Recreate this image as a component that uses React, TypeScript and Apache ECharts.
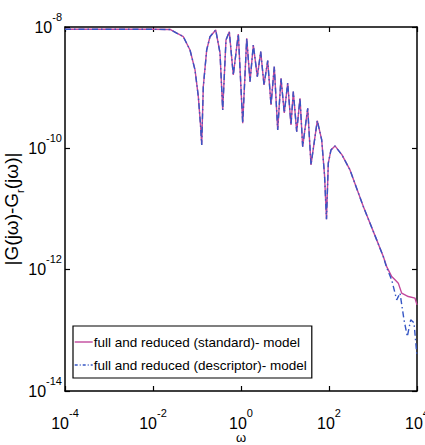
import React, { useEffect, useRef } from "react";
import * as echarts from "echarts";

// log10(omega) and log10(|G - Gr|)
const sharedLogOmega = [-4, -2, -1.614, -1.311, -1.159, -1.045, -0.97, -0.92, -0.893, -0.857, -0.78, -0.705, -0.575, -0.477, -0.416, -0.341, -0.266, -0.175, -0.061, 0.039, 0.13, 0.205, 0.28, 0.371, 0.448, 0.523, 0.607, 0.682, 0.757, 0.834, 0.909, 0.984, 1.061, 1.136, 1.189, 1.266, 1.341, 1.402, 1.516, 1.591, 1.734, 1.834, 1.898, 1.943, 1.984, 2.045, 2.136, 2.295, 2.477, 2.78, 3.084, 3.234];
const sharedLogMag = [-8.038, -8.038, -8.041, -8.16, -8.379, -8.708, -9.148, -9.615, -9.944, -8.984, -8.379, -8.16, -8.049, -8.428, -9.367, -8.214, -8.077, -8.791, -8.115, -9.586, -8.186, -8.901, -8.297, -8.819, -8.407, -8.956, -8.555, -9.285, -8.654, -9.697, -8.845, -9.417, -8.923, -9.615, -9.066, -9.725, -9.175, -9.972, -9.339, -10.273, -9.544, -9.862, -10.438, -11.168, -10.245, -10.026, -9.96, -10.109, -10.356, -10.96, -11.509, -11.784];

const stdTailLogOmega = [3.311, 3.425, 3.5, 3.575, 3.652, 3.802, 3.955, 4.0];
const stdTailLogMag = [-11.949, -12.114, -12.168, -12.222, -12.387, -12.443, -12.47, -12.58];

const descTailLogOmega = [3.311, 3.425, 3.539, 3.614, 3.705, 3.78, 3.857, 3.932, 4.0];
const descTailLogMag = [-11.97, -12.168, -12.498, -12.387, -12.827, -13.102, -12.827, -12.876, -13.432];

const seriesNames = [
  "full and reduced (standard)- model",
  "full and reduced (descriptor)- model",
];

const FONT = "'Liberation Sans', Arial, Helvetica, sans-serif";
const MAGENTA = "#c2489c";
const BLUE = "#3656c4";
const DASH = [6, 3, 1.5, 3];

function toPoints(lx: number[], ly: number[]) {
  return lx.map((x, i) => [Math.pow(10, x), Math.pow(10, ly[i])]);
}

function expLabel(v: number) {
  const e = Math.round(Math.log10(v));
  return `{b|10}{s|${e}}`;
}

const labelRich = {
  b: { fontSize: 16, fontFamily: FONT, color: "#000", verticalAlign: "bottom", lineHeight: 24 },
  s: { fontSize: 11, fontFamily: FONT, color: "#000", verticalAlign: "top" },
};

export default function App() {
  const ref = useRef<HTMLDivElement>(null);
  useEffect(() => {
    if (!ref.current) return;
    const chart = echarts.init(ref.current, undefined, { renderer: "svg" });
    const stdData = toPoints(sharedLogOmega.concat(stdTailLogOmega), sharedLogMag.concat(stdTailLogMag));
    const descData = toPoints(sharedLogOmega.concat(descTailLogOmega), sharedLogMag.concat(descTailLogMag));
    const axisLine = { show: true, lineStyle: { color: "#000", width: 1.5 } };
    const tick = { show: true, inside: true, length: 5, lineStyle: { color: "#000", width: 1.2 } };
    chart.setOption({
      animation: false,
      backgroundColor: "#fff",
      grid: { left: 65, right: 8, top: 27, bottom: 54, containLabel: false, outerBoundsMode: "none" },
      legend: {
        orient: "vertical",
        left: 73,
        top: 326,
        data: [
          { name: seriesNames[0], lineStyle: { color: MAGENTA, width: 1.4 } },
          { name: seriesNames[1], lineStyle: { color: BLUE, width: 1.4, type: [3, 2, 1, 2] } },
        ],
        itemStyle: { opacity: 0 },
        backgroundColor: "#fff",
        borderColor: "#000",
        borderWidth: 1.2,
        borderRadius: 0,
        padding: [9, 5, 6, 1],
        itemGap: 9,
        itemWidth: 18,
        itemHeight: 14,
        textStyle: { fontFamily: FONT, fontSize: 13.5, color: "#000", padding: [0, 0, 0, -4] },
      },
      xAxis: [
        {
          type: "log",
          logBase: 100,
          min: 1e-4,
          max: 1e4,
          interval: 1,
          name: "ω",
          nameLocation: "middle",
          nameGap: 40,
          nameMoveOverlap: false,
          nameTextStyle: { fontFamily: FONT, fontSize: 13, color: "#000" },
          axisLine,
          axisTick: tick,
          splitLine: { show: false },
          minorTick: { show: false },
          axisLabel: { formatter: expLabel, rich: labelRich, margin: 16, color: "#000" },
        },
        {
          type: "log",
          logBase: 100,
          min: 1e-4,
          max: 1e4,
          interval: 1,
          position: "top",
          axisLine,
          axisTick: tick,
          splitLine: { show: false },
          axisLabel: { show: false },
        },
      ],
      yAxis: [
        {
          type: "log",
          logBase: 100,
          min: 1e-14,
          max: 1e-8,
          interval: 1,
          name: "{n|\u007CG(jω)-G}{r|r}{n|(jω)\u007C}",
          nameLocation: "middle",
          nameGap: 40,
          nameMoveOverlap: false,
          nameRotate: 90,
          nameTextStyle: {
            rich: {
              n: { fontFamily: FONT, fontSize: 19, color: "#000", verticalAlign: "top", lineHeight: 23 },
              r: { fontFamily: FONT, fontSize: 11, color: "#000", verticalAlign: "bottom", lineHeight: 23 },
            },
          },
          axisLine,
          axisTick: tick,
          splitLine: { show: false },
          minorTick: { show: false },
          axisLabel: { formatter: expLabel, rich: labelRich, margin: 3, color: "#000", padding: [0, 0, 8, 0] },
        },
        {
          type: "log",
          logBase: 100,
          min: 1e-14,
          max: 1e-8,
          interval: 1,
          position: "right",
          axisLine,
          axisTick: tick,
          splitLine: { show: false },
          axisLabel: { show: false },
        },
      ],
      series: [
        {
          name: seriesNames[0],
          type: "line",
          data: stdData,
          showSymbol: false,
          symbol: "none",
          lineStyle: { color: MAGENTA, width: 1.4 },
          itemStyle: { color: MAGENTA },
          z: 2,
        },
        {
          name: seriesNames[1],
          type: "line",
          data: descData,
          showSymbol: false,
          symbol: "none",
          lineStyle: { color: BLUE, width: 1.4, type: DASH },
          itemStyle: { color: BLUE },
          z: 3,
        },
      ],
    });
    return () => chart.dispose();
  }, []);
  return <div ref={ref} style={{ width: 425, height: 445, position: "absolute", left: 0, top: 0 }} />;
}
